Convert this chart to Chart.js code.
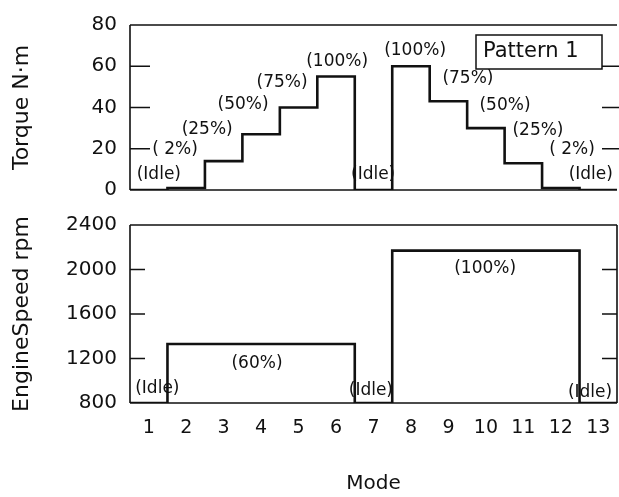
<!DOCTYPE html>
<html>
<head>
<meta charset="utf-8">
<script src="https://cdn.jsdelivr.net/npm/chart.js@4"></script>
<style>
  html, body { margin: 0; padding: 0; background: #fff; }
  #wrap { position: relative; width: 619px; height: 497px; }
  #torqueChart { position: absolute; left: 0; top: 0; }
  #speedChart { position: absolute; left: 0; top: 200px; }
</style>
</head>
<body>
<div id="wrap">
  <canvas id="torqueChart"></canvas>
  <canvas id="speedChart"></canvas>
</div>
<script>
const modes = [1, 2, 3, 4, 5, 6, 7, 8, 9, 10, 11, 12, 13];
const torque = [0, 1, 14, 27, 40, 55, 0, 60, 43, 30, 13, 1, 0];
const engineSpeed = [800, 1330, 1330, 1330, 1330, 1330, 800, 2170, 2170, 2170, 2170, 2170, 800];

// step labels and where they sit (in mode / value units)
const torqueNotes = ["(Idle)", "( 2%)", "(25%)", "(50%)", "(75%)", "(100%)", "(Idle)", "(100%)", "(75%)", "(50%)", "(25%)", "( 2%)", "(Idle)"];
const torqueNoteX = [1.27, 1.7, 2.56, 3.52, 4.56, 6.03, 6.99, 8.11, 9.52, 10.51, 11.39, 12.3, 12.8];
const torqueNoteY = [7.7, 19.4, 29.4, 41.6, 52, 62.4, 7.7, 67.8, 54.2, 40.7, 28.9, 19.4, 7.7];
const speedNotes = ["(Idle)", "(60%)", "(Idle)", "(100%)", "(Idle)"];
const speedNoteX = [1.23, 3.89, 6.93, 9.98, 12.78];
const speedNoteY = [933, 1154, 915, 2011, 897];

const INK = "#111";
const FONT = "'DejaVu Sans', sans-serif";

// pad the ends so each mode gets a full-width step
function stepPoints(values) {
  const pts = modes.map((m, i) => ({ x: m, y: values[i] }));
  pts.unshift({ x: modes[0] - 0.5, y: values[0] });
  pts.push({ x: modes[modes.length - 1] + 0.5, y: values[values.length - 1] });
  return pts;
}

const framePlugin = {
  id: "frame",
  afterDraw(chart, args, opts) {
    const { ctx, chartArea: a, scales } = chart;
    ctx.save();
    ctx.strokeStyle = INK;
    ctx.lineWidth = 1.6;
    ctx.beginPath();
    ctx.moveTo(a.left, a.top); ctx.lineTo(a.right, a.top);
    ctx.moveTo(a.left, a.top); ctx.lineTo(a.left, a.bottom);
    ctx.moveTo(a.left, a.bottom); ctx.lineTo(a.right, a.bottom);
    if (opts.right) { ctx.moveTo(a.right, a.top); ctx.lineTo(a.right, a.bottom); }
    scales.y.ticks.forEach(t => {
      if (t.value === scales.y.min || t.value === scales.y.max) return;
      const y = scales.y.getPixelForValue(t.value);
      ctx.moveTo(a.left, y); ctx.lineTo(a.left + opts.leftTick, y);
      ctx.moveTo(a.right - opts.rightTick, y); ctx.lineTo(a.right + opts.rightOver, y);
    });
    ctx.stroke();

    // step notes
    ctx.fillStyle = INK;
    ctx.font = "17px " + FONT;
    ctx.textAlign = "center";
    ctx.textBaseline = "middle";
    opts.notes.forEach((txt, i) => {
      ctx.fillText(txt, scales.x.getPixelForValue(opts.noteX[i]), scales.y.getPixelForValue(opts.noteY[i]));
    });

    if (opts.box) {
      const bx = a.right - 141, by = a.top + 10;
      ctx.lineWidth = 1.5;
      ctx.strokeRect(bx, by, 126, 34);
      ctx.font = "21px " + FONT;
      ctx.textAlign = "left";
      ctx.fillText(opts.box, bx + 7, by + 17);
    }
    ctx.restore();
  },
};

function makeChart(id, height, values, yMin, yMax, yStep, yTitle, extra) {
  const canvas = document.getElementById(id);
  canvas.width = 619;
  canvas.height = height;
  return new Chart(canvas, {
    type: "line",
    data: {
      datasets: [{
        data: stepPoints(values),
        stepped: "middle",
        borderColor: INK,
        borderWidth: 2.6,
        pointRadius: 0,
        fill: false,
      }],
    },
    plugins: [framePlugin],
    options: {
      responsive: false,
      animation: false,
      layout: { padding: { top: extra.padTop, right: 2, left: 0, bottom: 0 } },
      plugins: {
        legend: { display: false },
        tooltip: { enabled: false },
        frame: extra.frame,
      },
      scales: {
        x: {
          type: "linear",
          min: 0.5,
          max: 13.5,
          display: true,
          grid: { display: false, drawTicks: false },
          border: { display: false },
          afterBuildTicks: s => { s.ticks = modes.map(v => ({ value: v })); },
          afterFit: s => {
            s.height = extra.xHeight;
            s.paddingLeft = 0;
            s.paddingRight = 0;
          },
          ticks: {
            display: extra.xLabels,
            padding: 14,
            color: INK,
            font: { family: FONT, size: 19 },
          },
          title: {
            display: extra.xLabels,
            text: "Mode",
            color: INK,
            padding: { top: 0, bottom: 1 },
            font: { family: FONT, size: 20 },
          },
        },
        y: {
          min: yMin,
          max: yMax,
          grid: { display: false, drawTicks: false },
          border: { display: false },
          afterFit: s => { s.width = 130; },
          ticks: {
            stepSize: yStep,
            padding: 13,
            color: INK,
            font: { family: FONT, size: 20 },
            callback: v => String(v),
          },
          title: {
            display: true,
            text: yTitle,
            color: INK,
            padding: { top: 9, bottom: 0 },
            font: { family: FONT, size: 22 },
          },
        },
      },
    },
  });
}

makeChart("torqueChart", 215, torque, 0, 80, 20, "Torque N\u00b7m", {
  padTop: 23,
  xHeight: 15,
  xLabels: false,
  frame: { right: false, leftTick: 20, rightTick: 15, rightOver: 2, notes: torqueNotes, noteX: torqueNoteX, noteY: torqueNoteY, box: "Pattern 1" },
});

makeChart("speedChart", 297, engineSpeed, 800, 2400, 400, "EngineSpeed rpm", {
  padTop: 22,
  xHeight: 94,
  xLabels: true,
  frame: { right: true, leftTick: 15, rightTick: 15, rightOver: 0, notes: speedNotes, noteX: speedNoteX, noteY: speedNoteY, box: null },
});
</script>
</body>
</html>
